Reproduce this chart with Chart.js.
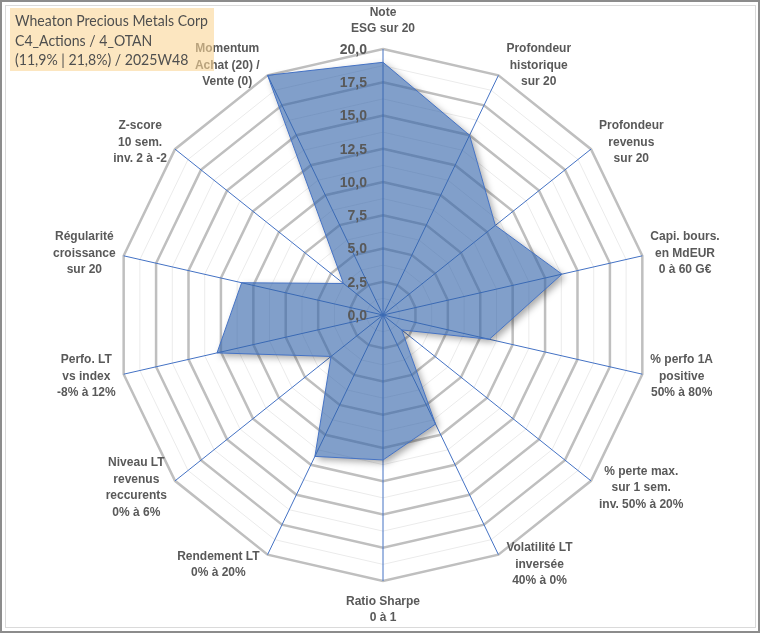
<!DOCTYPE html>
<html>
<head>
<meta charset="utf-8">
<script src="https://cdn.jsdelivr.net/npm/chart.js@4.4.0/dist/chart.umd.min.js"></script>
<style>
html, body { margin: 0; padding: 0; background: #fff; }
#wrap { position: relative; width: 760px; height: 633px; overflow: hidden; }
#chart { position: absolute; left: 0; top: 0; }
#outer { position: absolute; left: 0; top: 0; width: 760px; height: 633px; box-sizing: border-box; border: 2px solid #8c8c8c; pointer-events: none; }
#inner { position: absolute; left: 5px; top: 5px; right: 4px; bottom: 5px; border: 1px solid #dadada; pointer-events: none; }
</style>
</head>
<body>
<div id="wrap">
  <canvas id="chart" width="760" height="633"></canvas>
  <div id="outer"></div>
  <div id="inner"></div>
</div>
<script>
// axes, clockwise from the top
var categories = [
    ['Note', 'ESG sur 20'],
    ['Profondeur', 'historique', 'sur 20'],
    ['Profondeur', 'revenus', 'sur 20'],
    ['Capi. bours.', 'en MdEUR', '0 à 60 G€'],
    ['% perfo 1A', 'positive', '50% à 80%'],
    ['% perte max.', 'sur 1 sem.', 'inv. 50% à 20%'],
    ['Volatilité LT', 'inversée', '40% à 0%'],
    ['Ratio Sharpe', '0 à 1'],
    ['Rendement LT', '0% à 20%'],
    ['Niveau LT', 'revenus', 'reccurents', '0% à 6%'],
    ['Perfo. LT', 'vs index', '-8% à 12%'],
    ['Régularité', 'croissance', 'sur 20'],
    ['Z-score', '10 sem.', 'inv. 2 à -2'],
    ['Momentum', 'Achat (20) /', 'Vente (0)']
];
var scores = [19.0, 15.0, 10.8, 13.8, 8.2, 1.8, 9.1, 10.9, 11.8, 5.0, 12.8, 10.9, 3.8, 20.0];
var tickValues = [0, 2.5, 5, 7.5, 10, 12.5, 15, 17.5, 20];
var titleLines = ['Wheaton Precious Metals Corp', 'C4_Actions / 4_OTAN', '(11,9% | 21,8%) / 2025W48'];

var LABEL_FONT = 'bold 12px "Liberation Sans", Arial, sans-serif';
var GREY = '#595959';

function fmt(v) {
    return v.toFixed(1).replace('.', ',');
}

// soft drop shadow outside the filled area only (clip out the polygon,
// then draw the shape far off-canvas so only its shadow lands here)
var shadowPlugin = {
    id: 'shadow',
    beforeDatasetsDraw: function (chart) {
        var ctx = chart.ctx;
        var pts = chart.getDatasetMeta(0).data;
        var FAR = 5000;
        var k;
        ctx.save();
        ctx.beginPath();
        ctx.rect(0, 0, chart.width, chart.height);
        ctx.moveTo(pts[0].x, pts[0].y);
        for (k = 1; k < pts.length; k++) {
            ctx.lineTo(pts[k].x, pts[k].y);
        }
        ctx.closePath();
        ctx.clip('evenodd');
        ctx.shadowColor = 'rgba(0,0,0,0.35)';
        ctx.shadowBlur = 7;
        ctx.shadowOffsetX = FAR + 3;
        ctx.shadowOffsetY = 3;
        ctx.fillStyle = '#000';
        ctx.beginPath();
        ctx.moveTo(pts[0].x - FAR, pts[0].y);
        for (k = 1; k < pts.length; k++) {
            ctx.lineTo(pts[k].x - FAR, pts[k].y);
        }
        ctx.closePath();
        ctx.fill();
        ctx.restore();
    }
};

var labelsPlugin = {
    id: 'excelLabels',
    afterDraw: function (chart) {
        var ctx = chart.ctx;
        var r = chart.scales.r;
        var i, j;

        // tick values, left of the vertical axis
        ctx.save();
        ctx.font = 'bold 14px "Liberation Sans", Arial, sans-serif';
        ctx.fillStyle = GREY;
        ctx.textAlign = 'right';
        ctx.textBaseline = 'middle';
        for (i = 0; i < tickValues.length; i++) {
            var d = r.getDistanceFromCenterForValue(tickValues[i]);
            ctx.fillText(fmt(tickValues[i]), r.xCenter - 16, r.yCenter - d + 1);
        }
        ctx.restore();

        // point labels, centred lines in a box next to each spoke end
        ctx.save();
        ctx.font = LABEL_FONT;
        ctx.fillStyle = GREY;
        ctx.textAlign = 'center';
        ctx.textBaseline = 'middle';
        var lh = 16.5;
        for (i = 0; i < categories.length; i++) {
            var lines = categories[i];
            var p = r.getPointPosition(i, r.drawingArea);
            var ang = p.angle + Math.PI / 2;   // 0 at top, clockwise
            var s = Math.sin(ang), c = Math.cos(ang);
            var w = 0;
            for (j = 0; j < lines.length; j++) {
                w = Math.max(w, ctx.measureText(lines[j]).width);
            }
            var h = lines.length * lh;
            var cx, cy;
            if (Math.abs(s) < 0.1) {
                cx = p.x;
                cy = c > 0 ? p.y - 12 - h / 2 : p.y + 12 + h / 2;
            } else {
                cx = s > 0 ? p.x + 8 + w / 2 : p.x - 8 - w / 2;
                cy = p.y - 11 * c;
            }
            for (j = 0; j < lines.length; j++) {
                ctx.fillText(lines[j], cx, cy - h / 2 + lh * (j + 0.5));
            }
        }
        ctx.restore();

        // title box, drawn over the chart
        ctx.save();
        ctx.fillStyle = 'rgba(250,214,150,0.6)';
        ctx.fillRect(10, 8, 204, 63);
        ctx.font = '16px Lato, "Open Sans", sans-serif';
        ctx.fillStyle = '#4f4f4f';
        ctx.textAlign = 'left';
        ctx.textBaseline = 'middle';
        ctx.translate(15, 0);
        ctx.scale(0.88, 1);
        for (i = 0; i < titleLines.length; i++) {
            ctx.fillText(titleLines[i], 0, 21 + i * 19.5);
        }
        ctx.restore();
    }
};

new Chart(document.getElementById('chart'), {
    type: 'radar',
    data: {
        labels: categories,
        datasets: [{
            data: scores,
            backgroundColor: 'rgba(52,100,170,0.62)',
            borderColor: '#4472c4',
            borderWidth: 1,
            pointRadius: 0,
            pointHoverRadius: 0,
            tension: 0
        }]
    },
    options: {
        responsive: false,
        animation: false,
        devicePixelRatio: 1,
        layout: { padding: { top: 49, bottom: 52, left: 83, right: 77 } },
        plugins: {
            legend: { display: false },
            tooltip: { enabled: false }
        },
        scales: {
            r: {
                min: 0,
                max: 20,
                ticks: { display: false, stepSize: 1.25 },
                grid: {
                    circular: false,
                    color: function (ctx) { return ctx.index % 2 === 0 ? '#bfbfbf' : '#ebebeb'; },
                    lineWidth: function (ctx) { return ctx.index % 2 === 0 ? 2.5 : 1; }
                },
                angleLines: { color: '#4472c4', lineWidth: 1 },
                pointLabels: { display: false }
            }
        }
    },
    plugins: [shadowPlugin, labelsPlugin]
});
</script>
</body>
</html>
